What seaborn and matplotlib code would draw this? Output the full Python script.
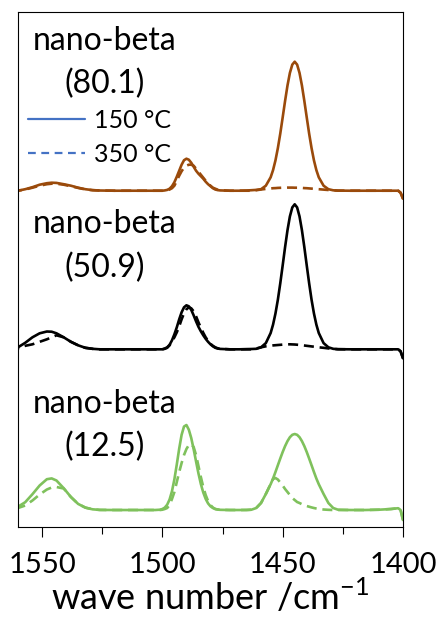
import pandas as pd
import seaborn as sns
import matplotlib.pyplot as plt
from matplotlib.lines import Line2D

# common wave-number grid (cm-1), denser around the bands
wavenumber = [1560, 1557, 1554, 1551, 1548, 1546, 1544, 1541, 1538, 1535, 1532, 1529, 1526,
              1520, 1514, 1508, 1503,
              1501, 1500, 1499, 1498, 1497, 1496, 1495, 1494, 1493, 1492, 1491, 1490, 1489,
              1488, 1487, 1486, 1485, 1484, 1483, 1482, 1481, 1480, 1479, 1478, 1477, 1476,
              1472, 1468, 1465,
              1463, 1461, 1459, 1457, 1455, 1454, 1453, 1452, 1451, 1450, 1449, 1448, 1447,
              1446, 1445, 1444, 1443, 1442, 1441, 1440, 1439, 1438, 1437, 1436, 1435, 1433,
              1431, 1429, 1427,
              1422, 1416, 1410, 1405, 1402, 1401, 1400]

# nano-beta (80.1)
beta80_150 = [0, 1.5, 3.5, 6, 7.5, 8, 7.8, 6.5, 5, 3, 1.5, 0.6, 0.2,
              0, 0, 0, 0,
              0, 0, 0.3, 0.8, 2, 4.5, 8.5, 14, 20, 26, 30.5, 32, 31,
              28, 24, 20, 17, 14.5, 12, 9, 6.5, 4.5, 2.5, 1.2, 0.6, 0.3,
              0, 0, 0.2,
              0.5, 0.8, 1.5, 5, 13.4, 20.6, 30.3, 42.6, 57.1, 73.3, 89.8, 105.2, 117.8,
              126.1, 129, 126.1, 117.8, 105.2, 89.8, 73.3, 57.1, 42.6, 30.3, 20.6, 13.4, 5,
              1.5, 0.4, 0.1,
              0, 0, 0, 0, 0, -2, -8]
beta80_350 = [0, 1.2, 3, 5, 6.5, 7, 7, 6, 4.5, 2.8, 1.3, 0.5, 0.2,
              0, 0, 0, 0,
              0, 0, 0.2, 0.5, 1.2, 2.5, 5, 10, 15, 19.5, 23, 25, 26,
              26, 25, 22, 19, 16, 13, 10, 7.5, 5, 3, 2, 1, 0.5,
              0, 0, 0,
              0, 0.5, 1.2, 1.8, 2.2, 2.5, 2.6, 2.8, 2.9, 3, 3, 3.1, 3.1,
              3.1, 3, 3, 2.9, 2.8, 2.6, 2.5, 2.3, 2.1, 1.9, 1.7, 1.5, 1.1,
              0.7, 0.4, 0.1,
              0, 0, 0, 0, 0, -2, -8]

# nano-beta (50.9)
beta50_150 = [2, 6.5, 12, 16, 17.8, 17.6, 16, 12, 7.5, 4, 1.5, 0.5, 0,
              0, 0, 0, 0,
              0, 0, 0.8, 2, 4.5, 9, 15, 22, 30, 37, 42, 44, 43,
              39.5, 34, 28, 22.5, 18, 14, 10.5, 7.5, 5, 3, 1.5, 0.8, 0.4,
              0, 0, 0.2,
              0.3, 0.5, 2, 6.2, 16.3, 24.7, 35.8, 49.6, 66, 83.9, 102.2, 119.1, 132.9,
              141.9, 145, 141.9, 132.9, 119.1, 102.2, 83.9, 66, 49.6, 35.8, 24.7, 16.3, 6.2,
              2, 0.5, 0.1,
              0, 0, 0, 0, 0, -2, -9]
beta50_350 = [1, 3.5, 5, 7.5, 10, 12, 14, 12, 7.5, 4, 1.5, 0.5, 0,
              0, 0, 0, 0,
              0, 0, 0.5, 1.5, 4, 8, 12, 17, 23, 30, 36, 40, 42,
              41, 38, 33, 27, 21.5, 16.5, 12, 8.5, 5.5, 3.5, 2, 1, 0.5,
              0, 0, 0,
              0, 0.8, 2, 3, 3.6, 3.9, 4.1, 4.3, 4.5, 4.7, 4.9, 5, 5,
              4.9, 4.8, 4.6, 4.4, 4.1, 3.8, 3.5, 3.2, 2.9, 2.6, 2.3, 2, 1.5,
              0.9, 0.4, 0.1,
              0, 0, 0, 0, 0, -2, -9]

# nano-beta (12.5)
beta12_150 = [3.3, 7.8, 15.8, 24.5, 30.8, 31.6, 29.5, 21.8, 13, 6.1, 2.4, 0.7, 0.1,
              0, 0, 0, 0,
              0.3, 1, 2.4, 5.3, 10.5, 18.8, 30.7, 45.6, 61.4, 75.2, 83.5, 85, 80.3,
              72, 60.9, 48.6, 36.6, 26, 17.5, 11.1, 6.6, 3.7, 2, 1, 0.5, 0.2,
              0, 0, 0.1,
              0.3, 2, 7, 16, 25.8, 31.5, 38, 44.8, 51.5, 58, 63.9, 68.9, 72.8,
              75.2, 76, 75.2, 72.8, 68.9, 63.9, 58, 51.5, 44.8, 38, 31.5, 25.8, 16,
              7, 2, 0.3,
              0, 0, 0.3, 1, 1.8, 0, -10]
beta12_350 = [2, 4.5, 9.5, 15.5, 20.5, 22.5, 23, 21.5, 13, 6.1, 2.4, 0.7, 0.1,
              0, 0, 0, 0,
              0, 0.3, 1, 2, 5, 11, 18, 28, 38, 47, 55, 61, 65,
              66, 63, 55, 44, 33, 23, 15, 9, 5, 2.5, 1, 0.5, 0.2,
              0, 0, 0,
              0.3, 2, 7, 16, 26, 31, 32, 30.5, 27.5, 24.5, 21, 18, 15,
              12, 10, 8, 7, 5.8, 4.8, 4, 3.3, 2.6, 2, 1.5, 1.1, 0.5,
              0.2, 0, 0,
              0, 0, 0.3, 1, 1.8, 0, -10]

samples = ['(80.1)', '(50.9)', '(12.5)']
offsets = [336.3, 177.7, 17]
colors = ['#9A4A0B', '#000000', '#7FC15C']
spectra = [(beta80_150, beta80_350), (beta50_150, beta50_350), (beta12_150, beta12_350)]
temps = ['150 °C', '350 °C']

rows = []
for s, off, (a150, a350) in zip(samples, offsets, spectra):
    for t, vals in zip(temps, (a150, a350)):
        for w, v in zip(wavenumber, vals):
            rows.append({'sample': s, 'temp': t, 'wn': w, 'y': v + off})
df = pd.DataFrame(rows)

sns.set_style('white')
plt.rcParams['font.family'] = ['Lato', 'DejaVu Sans']
plt.rcParams['mathtext.fontset'] = 'custom'
plt.rcParams['mathtext.rm'] = 'Lato'
plt.rcParams['text.color'] = 'black'
plt.rcParams['axes.labelcolor'] = 'black'
plt.rcParams['xtick.color'] = 'black'

fig = plt.figure(figsize=(4.45, 6.19), dpi=100)
ax = fig.add_axes([0.0404, 0.1486, 0.8652, 0.8320])

for s, col in zip(samples, colors):
    sub = df[df['sample'] == s]
    sns.lineplot(data=sub, x='wn', y='y', style='temp', style_order=temps,
                 dashes={'150 °C': '', '350 °C': (3.8, 2.2)},
                 color=col, lw=1.9, estimator=None, legend=False, ax=ax)

ax.set_xlim(1560, 1400)
ax.set_ylim(0, 515)
ax.set_yticks([])
ax.set_ylabel('')
ax.set_xticks([1550, 1500, 1450, 1400])
ax.set_xticks([1525, 1475, 1425], minor=True)
ax.tick_params(axis='x', which='major', direction='out', length=7, width=0.8,
               color='black', labelcolor='black', labelsize=21, pad=11, bottom=True)
ax.tick_params(axis='x', which='minor', direction='out', length=5, width=0.8,
               color='black', bottom=True)
for sp in ax.spines.values():
    sp.set_color('black')
    sp.set_linewidth(0.8)
ax.set_xlabel(r'wave number /cm$^{\mathregular{-1}}$', fontsize=26, labelpad=0,
              color='black')

# sample labels
name_y = [0.926, 0.570, 0.222]
ratio_y = [0.843, 0.485, 0.138]
for s, ny, ry in zip(samples, name_y, ratio_y):
    ax.text(0.226, ny, 'nano-beta', transform=ax.transAxes, ha='center',
            va='baseline', fontsize=23, color='black')
    ax.text(0.226, ry, s, transform=ax.transAxes, ha='center',
            va='baseline', fontsize=23, color='black')

handles = [Line2D([], [], color='#4472C4', lw=1.6),
           Line2D([], [], color='#4472C4', lw=1.6, dashes=(3.5, 2.5))]
leg = ax.legend(handles, temps, loc='upper left', bbox_to_anchor=(0.026, 0.812),
                frameon=False, fontsize=18, handlelength=2.3, handletextpad=0.35,
                labelspacing=0.45, borderpad=0, borderaxespad=0)
for t in leg.get_texts():
    t.set_color('black')

fig.savefig('out.png', dpi=100)
